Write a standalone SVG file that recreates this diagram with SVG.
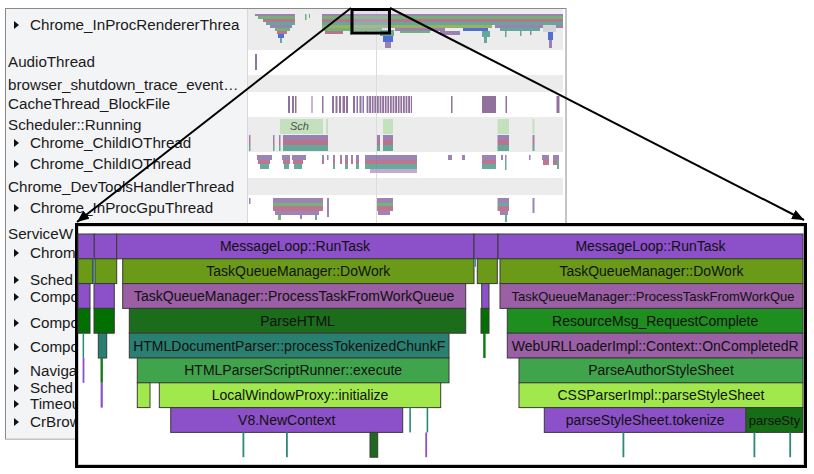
<svg xmlns="http://www.w3.org/2000/svg" width="814" height="474" viewBox="0 0 814 474">
<defs>
<style>
.lbl{font-family:"Liberation Sans",Arial,sans-serif;font-size:15.2px;fill:#1a1a1a}
.bt{font-family:"Liberation Sans",Arial,sans-serif;font-size:14px;fill:#111;text-anchor:middle}
.bts{font-size:13px}
.sch{font-family:"Liberation Sans",Arial,sans-serif;font-size:11px;font-style:italic;fill:#333}
.bar{stroke:#3a3a3a;stroke-width:1}
.pu{fill:#8c50c8}.ol{fill:#6a9a18}.ma{fill:#9a5fa4}.dg{fill:#1b6d1b}.gg{fill:#007000}
.rg{fill:#1e8e1e}.te{fill:#2a8070}.mg{fill:#40a44c}.li{fill:#a0e84c}.eg{fill:#156e15}
.tri{fill:#111}
.mp{fill:#8e6fa8}.mgn{fill:#5ea862}.mr{fill:#b0607c}.mt{fill:#4e9c8c}.mb{fill:#3858d0}.mo{fill:#8aa848}
.cb{fill:#7d5a8d}.sg{fill:#bde0b5}
.conn{stroke:#000;stroke-width:2;fill:none}
</style>
<marker id="ah" viewBox="0 0 12 10" refX="12" refY="5" markerWidth="12" markerHeight="10" markerUnits="userSpaceOnUse" orient="auto"><path d="M0,0 L12,5 L0,10 z" fill="#000"/></marker>
<pattern id="dense" width="2.6" height="40" patternUnits="userSpaceOnUse"><rect width="1.8" height="40" fill="#7d5a8d"/></pattern>
</defs>

<g id="trace-panel">
<rect x="5.5" y="8.5" width="560.5" height="430.5" fill="#fff" stroke="#8a8a8a"/>
<rect x="6" y="9" width="241" height="429.5" fill="#f3f4f6"/>
<line x1="247.5" y1="9" x2="247.5" y2="438" stroke="#d8d8d8"/>
<rect x="248" y="9" width="315" height="41" fill="#ececec"/>
<rect x="248" y="75" width="315" height="17" fill="#ececec"/>
<rect x="248" y="117" width="315" height="35" fill="#ececec"/>
<rect x="248" y="178" width="315" height="17" fill="#ececec"/>
<line x1="376.5" y1="9" x2="376.5" y2="226" stroke="#dcdcdc"/>
</g>

<g id="track-labels">
<polygon class="tri" points="14,21 14,29 19,25"/><text class="lbl" x="30" y="30">Chrome_InProcRendererThrea</text>
<text class="lbl" x="8" y="67">AudioThread</text>
<text class="lbl" x="8" y="89.5">browser_shutdown_trace_event…</text>
<text class="lbl" x="8" y="109">CacheThread_BlockFile</text>
<text class="lbl" x="8" y="130">Scheduler::Running</text>
<polygon class="tri" points="14,139 14,147 19,143"/><text class="lbl" x="30" y="147.5">Chrome_ChildIOThread</text>
<polygon class="tri" points="14,160 14,168 19,164"/><text class="lbl" x="30" y="169">Chrome_ChildIOThread</text>
<text class="lbl" x="8" y="191.5">Chrome_DevToolsHandlerThread</text>
<polygon class="tri" points="14,204 14,212 19,208"/><text class="lbl" x="30" y="213">Chrome_InProcGpuThread</text>
<text class="lbl" x="8" y="239">ServiceW</text>
<polygon class="tri" points="14,249 14,257 19,253"/><text class="lbl" x="30" y="257.5">Chrom</text>
<polygon class="tri" points="14,276 14,284 19,280"/><text class="lbl" x="30" y="285">Sched</text>
<polygon class="tri" points="14,293 14,301 19,297"/><text class="lbl" x="30" y="301.5">Compo</text>
<polygon class="tri" points="14,319 14,327 19,323"/><text class="lbl" x="30" y="328">Compo</text>
<polygon class="tri" points="14,343 14,351 19,347"/><text class="lbl" x="30" y="351.5">Compo</text>
<polygon class="tri" points="14,367 14,375 19,371"/><text class="lbl" x="30" y="375.5">Naviga</text>
<polygon class="tri" points="14,384 14,392 19,388"/><text class="lbl" x="30" y="392.5">Sched</text>
<polygon class="tri" points="14,400 14,408 19,404"/><text class="lbl" x="30" y="409">Timeou</text>
<polygon class="tri" points="14,418 14,426 19,422"/><text class="lbl" x="30" y="426.5">CrBrow</text>
</g>

<g id="mini-tracks" opacity="0.85">
<rect class="mp" x="255" y="14" width="40" height="2"/>
<rect class="mgn" x="258" y="16" width="37" height="3"/>
<rect class="mr" x="263" y="19" width="32" height="3"/>
<rect class="mt" x="266" y="22" width="29" height="3"/>
<rect class="mp" x="270" y="25" width="22" height="3"/>
<rect class="mgn" x="275" y="28" width="15" height="3"/>
<rect class="mr" x="277" y="31" width="10" height="3"/>
<rect class="mb" x="278" y="34" width="6" height="4"/>
<rect class="mt" x="280" y="38" width="2" height="5"/>
<rect class="mgn" x="305" y="14" width="1.5" height="6"/>
<rect class="mt" x="309" y="14" width="1" height="4"/>
<rect class="mp" x="322" y="14" width="241" height="2"/>
<rect class="mgn" x="322" y="16" width="241" height="3"/>
<rect class="mr" x="322" y="19" width="241" height="3"/>
<rect class="mt" x="322" y="22" width="241" height="3"/>
<rect class="mo" x="322" y="25" width="170" height="3"/>
<rect class="mp" x="495" y="25" width="68" height="3"/>
<rect class="mgn" x="322" y="28" width="60" height="3"/>
<rect class="mp" x="395" y="28" width="50" height="3"/>
<rect class="mb" x="463" y="28" width="25" height="3"/>
<rect class="mt" x="500" y="28" width="40" height="3"/>
<rect class="mr" x="325" y="31" width="18" height="3"/>
<rect class="mgn" x="400" y="31" width="30" height="2"/>
<rect class="mp" x="440" y="31" width="20" height="4"/>
<rect class="mt" x="482" y="31" width="8" height="6"/>
<rect class="mt" x="380" y="30" width="14" height="6"/>
<rect class="mb" x="383" y="36" width="10" height="6"/>
<rect class="mp" x="385" y="42" width="6" height="6"/>
<rect class="mt" x="484" y="37" width="3" height="6"/>
<rect fill="#cfcfd8" x="543" y="25" width="13" height="7"/>
<rect class="mb" x="548" y="32" width="5" height="8"/>
<rect class="mp" x="549" y="40" width="3" height="8"/>
<rect class="mt" x="505" y="31" width="1.5" height="6"/>
<rect class="mt" x="520" y="31" width="1.5" height="5"/>
<rect class="mp" x="530" y="31" width="1.5" height="4"/>
<rect class="mgn" x="350" y="31" width="1.5" height="4"/>
<rect class="mgn" x="365" y="31" width="1.5" height="3"/>
<rect class="cb" x="255" y="54" width="2" height="16"/>
<g class="cb">
<rect x="288" y="96" width="2" height="17"/><rect x="292" y="96" width="2" height="17"/><rect x="295" y="96" width="1.5" height="17"/>
<rect x="311.5" y="96" width="1" height="17"/><rect x="322" y="96" width="1.5" height="17"/>
<rect x="332" y="96" width="2" height="17"/><rect x="335.5" y="96" width="2" height="17"/><rect x="339" y="96" width="2" height="17"/><rect x="342.5" y="96" width="2.5" height="17"/><rect x="346" y="96" width="2" height="17"/>
<rect x="353" y="96" width="2" height="17"/><rect x="356.5" y="96" width="1.5" height="17"/><rect x="359.5" y="96" width="2" height="17"/><rect x="362.5" y="96" width="1.5" height="17"/>
<rect x="451" y="96" width="1.5" height="17"/><rect x="482" y="96" width="14" height="17"/><rect x="505.5" y="96" width="1.5" height="17"/><rect x="556.5" y="96" width="3" height="17"/>
</g>
<rect x="366" y="96" width="46" height="17" fill="url(#dense)"/>
<rect class="sg" x="280" y="119" width="43" height="15"/>
<rect class="sg" x="326" y="119" width="2" height="15"/>
<rect class="sg" x="383" y="119" width="10" height="15"/>
<rect class="sg" x="497.5" y="119" width="11.5" height="15"/>
<rect class="sg" x="532.5" y="119" width="2" height="15"/>
<text class="sch" x="290" y="129.5">Sch</text>
<g>
<rect class="mp" x="249" y="135" width="1.5" height="5"/><rect class="mr" x="249" y="140" width="1.5" height="5"/><rect class="mt" x="249" y="145" width="1.5" height="6"/>
<rect class="mp" x="273" y="135" width="1.5" height="5"/><rect class="mr" x="273" y="140" width="1.5" height="5"/><rect class="mt" x="273" y="145" width="1.5" height="6"/>
<rect class="mp" x="279" y="135" width="1.5" height="5"/><rect class="mr" x="279" y="140" width="1.5" height="5"/><rect class="mt" x="279" y="145" width="1.5" height="6"/>
<rect class="mp" x="283" y="135" width="45" height="5"/><rect class="mr" x="283" y="140" width="45" height="5"/><rect class="mt" x="283" y="145" width="45" height="6"/>
<rect class="mp" x="377" y="135" width="3" height="5"/><rect class="mr" x="377" y="140" width="3" height="5"/><rect class="mt" x="377" y="145" width="3" height="6"/>
<rect class="mp" x="383" y="135" width="10" height="5"/><rect class="mr" x="383" y="140" width="10" height="5"/><rect class="mt" x="383" y="145" width="10" height="6"/>
<rect class="mp" x="497.5" y="135" width="11.5" height="5"/><rect class="mr" x="497.5" y="140" width="11.5" height="5"/><rect class="mt" x="497.5" y="145" width="11.5" height="6"/>
<rect class="mp" x="532.5" y="135" width="2" height="5"/><rect class="mr" x="532.5" y="140" width="2" height="5"/><rect class="mt" x="532.5" y="145" width="2" height="6"/>
</g>
<g>
<rect class="mp" x="257" y="155" width="15" height="5"/><rect class="mr" x="258" y="160" width="12" height="4"/><rect class="mt" x="260" y="164" width="9" height="5"/>
<rect class="mp" x="282" y="155" width="8" height="5"/><rect class="mr" x="283" y="160" width="7" height="4"/><rect class="mt" x="284" y="164" width="5" height="5"/>
<rect class="mp" x="292" y="155" width="14" height="5"/><rect class="mr" x="293" y="160" width="10" height="4"/><rect class="mt" x="294" y="164" width="8" height="5"/>
<rect class="mp" x="322" y="155" width="2" height="5"/><rect class="mr" x="322" y="160" width="2" height="4"/>
<rect class="mp" x="327" y="155" width="1.5" height="5"/>
<rect class="mp" x="333" y="155" width="2" height="5"/><rect class="mr" x="333" y="160" width="2" height="4"/><rect class="mt" x="333" y="164" width="2" height="5"/>
<rect class="mp" x="340" y="155" width="2" height="5"/><rect class="mr" x="340" y="160" width="2" height="4"/>
<rect class="mp" x="345" y="155" width="3" height="5"/><rect class="mr" x="345" y="160" width="3" height="4"/><rect class="mt" x="345" y="164" width="3" height="5"/>
<rect class="mp" x="351" y="155" width="2" height="5"/><rect class="mr" x="351" y="160" width="2" height="4"/>
<rect class="mp" x="356" y="155" width="3" height="5"/><rect class="mr" x="356" y="160" width="3" height="4"/><rect class="mt" x="356" y="164" width="3" height="5"/>
<rect class="mp" x="365" y="155" width="52" height="5"/><rect class="mr" x="365" y="160" width="52" height="4"/><rect class="mt" x="365" y="164" width="52" height="5"/><rect fill="#b89cc8" x="370" y="169" width="47" height="4"/>
<rect class="mp" x="448" y="155" width="4" height="5"/><rect class="mp" x="462" y="155" width="3" height="5"/>
<rect class="mp" x="482" y="155" width="14" height="5"/><rect class="mr" x="482" y="160" width="14" height="4"/><rect class="mt" x="482" y="164" width="14" height="5"/>
<rect class="mp" x="501" y="155" width="2" height="5"/><rect class="mp" x="505" y="155" width="1.5" height="5"/><rect class="mt" x="505" y="160" width="1.5" height="10"/>
<rect class="mp" x="529" y="155" width="1.5" height="5"/>
<rect class="mp" x="542" y="155" width="7" height="5"/><rect class="mr" x="543" y="160" width="6" height="5"/>
<rect class="mp" x="553" y="155" width="6" height="5"/><rect class="mr" x="553" y="160" width="4" height="5"/><rect class="mt" x="557" y="160" width="2" height="9"/>
</g>
<g>
<rect class="mp" x="249" y="198" width="1.5" height="6"/>
<rect class="mp" x="273" y="198" width="50" height="5"/><rect class="mgn" x="273" y="203" width="50" height="3"/><rect class="mr" x="273" y="206" width="50" height="5"/><rect class="mp" x="275" y="211" width="44" height="4"/><rect class="mgn" x="278" y="215" width="3" height="5"/><rect class="mp" x="300" y="215" width="2" height="4"/><rect class="mt" x="315" y="215" width="2" height="5"/>
<rect class="mp" x="327" y="198" width="2" height="19"/>
<rect class="mp" x="377" y="198" width="16" height="5"/><rect class="mgn" x="377" y="203" width="16" height="3"/><rect class="mr" x="377" y="206" width="16" height="5"/><rect class="mp" x="378" y="211" width="12" height="4"/>
<rect class="mp" x="497.5" y="198" width="11.5" height="5"/><rect class="mt" x="497.5" y="203" width="11.5" height="3"/><rect class="mr" x="497.5" y="206" width="11.5" height="5"/><rect class="mp" x="500" y="211" width="8" height="4"/><rect class="mt" x="505" y="215" width="2" height="7"/>
<rect class="mp" x="532.5" y="198" width="2" height="15"/>
</g>
</g>

<rect id="zoom-window" x="352" y="9.5" width="37.5" height="23.5" fill="#c8c8e0" fill-opacity="0.3" stroke="#000" stroke-width="3"/>

<g id="zoom-panel">
<rect x="76.5" y="224.5" width="729" height="242" fill="#fff" stroke="#000" stroke-width="3"/>
<rect x="78.5" y="226.5" width="725" height="238" fill="none" stroke="#d0d0d0"/>

<g id="row0">
<rect class="bar pu" x="78" y="234" width="16.3" height="24.8"/>
<rect class="bar pu" x="94.3" y="234" width="22.4" height="24.8"/>
<g id="messageloop-1"><rect class="bar pu" x="116.7" y="234" width="357.3" height="24.8"/><text class="bt" x="295" y="251.4">MessageLoop::RunTask</text></g>
<rect class="bar pu" x="474" y="234" width="24" height="24.8"/>
<g id="messageloop-2"><rect class="bar pu" x="498" y="234" width="305" height="24.8"/><text class="bt" x="650.5" y="251.4">MessageLoop::RunTask</text></g>
</g>

<g id="row1">
<rect class="bar ol" x="78" y="258.8" width="14.7" height="24.8"/>
<rect fill="#2a8a8a" x="93" y="258.8" width="1.4" height="24.8"/>
<rect class="bar ol" x="95" y="258.8" width="21.7" height="24.8"/>
<g id="dowork-1"><rect class="bar ol" x="122.7" y="258.8" width="351.3" height="24.8"/><text class="bt" x="298.3" y="276.2">TaskQueueManager::DoWork</text></g>
<rect fill="#2a8a8a" x="474.5" y="258.8" width="1.4" height="8"/>
<rect class="bar ol" x="477.3" y="258.8" width="20" height="24.8"/>
<g id="dowork-2"><rect class="bar ol" x="500" y="258.8" width="303" height="24.8"/><text class="bt" x="651.5" y="276.2">TaskQueueManager::DoWork</text></g>
</g>

<g id="row2">
<rect class="bar pu" x="78" y="283.6" width="12" height="24.8"/>
<rect class="bar pu" x="94" y="283.6" width="20.3" height="24.8"/>
<g id="processtask-1"><rect class="bar ma" x="122.7" y="283.6" width="343" height="24.8"/><text class="bt" x="294.2" y="301">TaskQueueManager::ProcessTaskFromWorkQueue</text></g>
<rect class="bar pu" x="481.7" y="283.6" width="7.3" height="24.8"/>
<g id="processtask-2"><rect class="bar ma" x="500" y="283.6" width="303" height="24.8"/><text class="bt bts" x="653" y="300.8">TaskQueueManager::ProcessTaskFromWorkQue</text></g>
</g>

<g id="row3">
<rect class="bar gg" x="78" y="308.4" width="12" height="24.8"/>
<rect class="bar gg" x="94" y="308.4" width="20.3" height="24.8"/>
<g id="parsehtml"><rect class="bar dg" x="129.3" y="308.4" width="336.4" height="24.8"/><text class="bt" x="297.5" y="325.8">ParseHTML</text></g>
<rect class="bar gg" x="481" y="308.4" width="8" height="24.8"/>
<g id="resourcemsg"><rect class="bar rg" x="507.3" y="308.4" width="295.7" height="24.8"/><text class="bt" x="655.2" y="325.8">ResourceMsg_RequestComplete</text></g>
</g>

<g id="row4">
<rect fill="#2a8a7a" x="82.6" y="333.2" width="1.5" height="24.8"/>
<rect class="bar te" x="98.3" y="333.2" width="8.4" height="24.8"/>
<g id="htmldocparser"><rect class="bar te" x="129.3" y="333.2" width="319.7" height="24.8"/><text class="bt" x="289.2" y="350.6">HTMLDocumentParser::processTokenizedChunkF</text></g>
<rect fill="#0a7a0a" x="483.2" y="333.2" width="2.4" height="24.8"/>
<g id="weburlloader"><rect class="bar ma" x="507.3" y="333.2" width="295.7" height="24.8"/><text class="bt" x="655.2" y="350.6">WebURLLoaderImpl::Context::OnCompletedR</text></g>
</g>

<g id="row5">
<rect fill="#8c50c8" x="82.6" y="358" width="1.8" height="24.8"/>
<rect fill="#1b7a1b" x="100.5" y="358" width="2.4" height="24.8"/>
<g id="scriptrunner"><rect class="bar mg" x="137.3" y="358" width="311.7" height="24.8"/><text class="bt" x="293.2" y="375.4">HTMLParserScriptRunner::execute</text></g>
<g id="parseauthor"><rect class="bar mg" x="519" y="358" width="284" height="24.8"/><text class="bt" x="661" y="375.4">ParseAuthorStyleSheet</text></g>
</g>

<g id="row6">
<rect fill="#8c50c8" x="100.6" y="382.8" width="2.2" height="24.8"/>
<rect class="bar li" x="137.3" y="382.8" width="12.7" height="24.8"/>
<g id="localwindowproxy"><rect class="bar li" x="159.3" y="382.8" width="281.4" height="24.8"/><text class="bt" x="300" y="400.2">LocalWindowProxy::initialize</text></g>
<g id="cssparser"><rect class="bar li" x="519" y="382.8" width="284" height="24.8"/><text class="bt" x="661" y="400.2">CSSParserImpl::parseStyleSheet</text></g>
</g>

<g id="row7">
<g id="v8newcontext"><rect class="bar pu" x="170.7" y="407.6" width="232" height="24.8"/><text class="bt" x="286.7" y="425">V8.NewContext</text></g>
<rect fill="#2a8a7a" x="409.3" y="407.6" width="1.6" height="24.8"/>
<rect fill="#2a8a7a" x="426.6" y="407.6" width="1.6" height="24.8"/>
<g id="tokenize"><rect class="bar pu" x="544.3" y="407.6" width="201.7" height="24.8"/><text class="bt" x="645.2" y="425">parseStyleSheet.tokenize</text></g>
<g id="parsesty"><rect class="bar eg" x="746" y="407.6" width="57" height="24.8"/><text class="bt bts" x="774.5" y="424.8">parseSty</text></g>
</g>

<g id="row8">
<rect fill="#2a8a7a" x="242.5" y="432.4" width="1.8" height="24.8"/>
<rect fill="#2a8a7a" x="286" y="432.4" width="1.8" height="24.8"/>
<rect class="bar" fill="#1f6a1f" x="370" y="432.4" width="7.7" height="24.8"/>
<rect fill="#8c50c8" x="425.3" y="432.4" width="1.8" height="24.8"/>
<rect fill="#2a8a7a" x="622.5" y="432.4" width="1.8" height="24.8"/>
<rect fill="#2a8a7a" x="753.5" y="432.4" width="1.8" height="24.8"/>
<rect fill="#2a8a7a" x="789.3" y="432.4" width="1.8" height="24.8"/>
</g>
</g>

<g id="connectors">
<line class="conn" x1="351" y1="8" x2="77" y2="222" marker-end="url(#ah)"/>
<line class="conn" x1="390" y1="8" x2="804" y2="220" marker-end="url(#ah)"/>
</g>
</svg>
